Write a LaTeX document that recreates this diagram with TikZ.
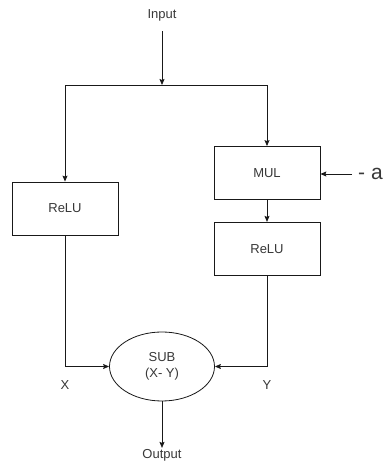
\documentclass[tikz,border=0pt]{standalone}
\usepackage{fontspec}
\setmainfont{Liberation Sans}
\usepackage{xcolor}
\usepackage{tikz}
\usetikzlibrary{shapes.geometric,arrows.meta,positioning}
\definecolor{lineDark}{gray}{0.10}
\definecolor{textDark}{gray}{0.22}

\begin{document}
\begin{tikzpicture}[x=1pt, y=1pt,
      box/.style={draw=lineDark, line width=0.8pt, fill=white,
                  minimum width=106pt, minimum height=53pt, inner sep=0pt,
                  font=\fontsize{13}{15}\selectfont, text=textDark},
      op/.style={ellipse, draw=lineDark, line width=0.8pt, fill=white,
                 minimum width=105pt, minimum height=69pt, inner sep=0pt,
                 align=center, font=\fontsize{13}{16}\selectfont, text=textDark},
      lbl/.style={font=\fontsize{13}{15}\selectfont, text=textDark, inner sep=1pt},
      flow/.style={-{Stealth[length=6pt, width=5pt, inset=1pt]}, line width=0.8pt, draw=lineDark}]

    \useasboundingbox (0,0) rectangle (384,464);

    \node[lbl] (in) at (162,449) {Input};
    \coordinate (split) at (162,379);

    \node[box] (relu1) at (65,255.5) {ReLU};
    \node[box] (mul) at (267,291) {MUL};
    \node[box, below=22pt of mul] (relu2) {ReLU};
    \node[op] (sub) at (162,97.5) {SUB\\(X- Y)};

    \node[lbl, font=\fontsize{21}{24}\selectfont, inner xsep=6pt, anchor=west] (a) at (352,290) {- a};
    \node[lbl] (x) at (65,79) {X};
    \node[lbl] (y) at (267,79) {Y};
    \node[lbl] (out) at (162,9) {Output};

    \draw[flow] ([yshift=-9pt]in.south) -- (split);
    \draw[flow] (split) -| (relu1.north);
    \draw[flow] (split) -| (mul.north);
    \draw[flow] (mul) -- (relu2);
    \draw[flow] (a.west) -- (mul.east |- a.west);
    \draw[flow] (relu1.south) |- (sub.west);
    \draw[flow] (relu2.south) |- (sub.east);
    \draw[flow] (sub.south) -- (out.north);
  \end{tikzpicture}
\end{document}
